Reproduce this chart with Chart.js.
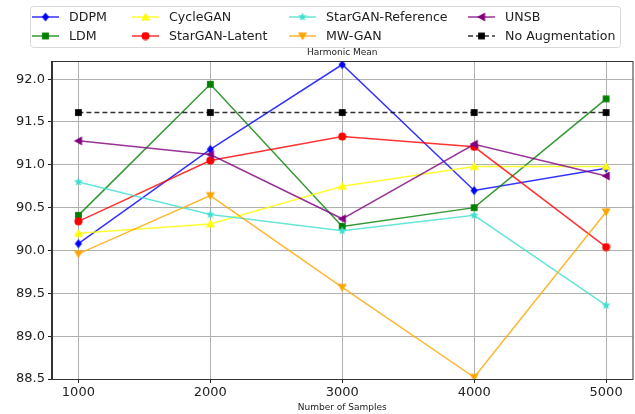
<!DOCTYPE html>
<html>
<head>
<meta charset="utf-8">
<script src="https://cdn.jsdelivr.net/npm/chart.js@4/dist/chart.umd.min.js"></script>
<style>
  html, body { margin: 0; padding: 0; background: #fff; overflow: hidden; }
  #wrap { width: 635px; height: 414px; position: relative; overflow: hidden; }
</style>
</head>
<body>
<div id="wrap"><canvas id="hm_chart" width="638" height="414"></canvas></div>
<script>
// data
var samples = [1000, 2000, 3000, 4000, 5000];
var ddpm = [90.08, 91.18, 92.17, 90.70, 90.96];
var ldm = [90.41, 91.94, 90.28, 90.50, 91.77];
var cycleGan = [90.20, 90.31, 90.75, 90.98, 90.98];
var starganLatent = [90.34, 91.05, 91.33, 91.21, 90.04];
var starganRef = [90.80, 90.42, 90.23, 90.41, 89.36];
var mwGan = [89.96, 90.64, 89.57, 88.52, 90.45];
var unsb = [91.28, 91.12, 90.37, 91.24, 90.87];
var noAug = [91.61, 91.61, 91.61, 91.61, 91.61];
var yTicks = [88.5, 89.0, 89.5, 90.0, 90.5, 91.0, 91.5, 92.0];
var xTicks = [1000, 2000, 3000, 4000, 5000];

var FONT = "'DejaVu Sans', sans-serif";

//Build marker images (matplotlib-like shapes)
function makeMarker(shape, color, size) {
    var c = document.createElement('canvas');
    c.width = size; c.height = size;
    var g = c.getContext('2d');
    var m = size / 2, r = size / 2 - 0.5;
    g.fillStyle = color;
    g.beginPath();
    if (shape === 'circle') {
        g.arc(m, m, r, 0, Math.PI * 2);
    } else if (shape === 'square') {
        g.rect(m - r * 0.85, m - r * 0.85, r * 1.7, r * 1.7);
    } else if (shape === 'diamond') {
        g.moveTo(m, m - r); g.lineTo(m + r * 0.8, m); g.lineTo(m, m + r); g.lineTo(m - r * 0.8, m);
    } else if (shape === 'up') {
        g.moveTo(m, m - r); g.lineTo(m + r, m + r * 0.8); g.lineTo(m - r, m + r * 0.8);
    } else if (shape === 'down') {
        g.moveTo(m, m + r); g.lineTo(m + r, m - r * 0.8); g.lineTo(m - r, m - r * 0.8);
    } else if (shape === 'left') {
        g.moveTo(m - r, m); g.lineTo(m + r * 0.8, m - r); g.lineTo(m + r * 0.8, m + r);
    } else if (shape === 'star') {
        for (var i = 0; i < 10; i++) {
            var a = -Math.PI / 2 + i * Math.PI / 5;
            var rr = i % 2 === 0 ? r : r * 0.45;
            var px = m + rr * Math.cos(a), py = m + rr * Math.sin(a);
            if (i === 0) g.moveTo(px, py); else g.lineTo(px, py);
        }
    }
    g.closePath();
    g.fill();
    return c;
}

function toPoints(values) {
    return samples.map(function (s, i) { return { x: s, y: values[i] }; });
}

var series = [
    { label: 'DDPM', data: ddpm, color: '#0000ff', line: 'rgba(0, 0, 255, 0.8)', marker: makeMarker('diamond', '#0000ff', 10) },
    { label: 'LDM', data: ldm, color: '#008000', line: 'rgba(0, 128, 0, 0.8)', marker: makeMarker('square', '#008000', 9) },
    { label: 'CycleGAN', data: cycleGan, color: '#ffff00', line: 'rgba(255, 255, 0, 0.8)', marker: makeMarker('up', '#ffff00', 10) },
    { label: 'StarGAN-Latent', data: starganLatent, color: '#ff0000', line: 'rgba(255, 0, 0, 0.8)', marker: makeMarker('circle', '#ff0000', 9) },
    { label: 'StarGAN-Reference', data: starganRef, color: '#40e0d0', line: 'rgba(64, 224, 208, 0.8)', marker: makeMarker('star', '#40e0d0', 10) },
    { label: 'MW-GAN', data: mwGan, color: '#ffa500', line: 'rgba(255, 165, 0, 0.8)', marker: makeMarker('down', '#ffa500', 10) },
    { label: 'UNSB', data: unsb, color: '#800080', line: 'rgba(128, 0, 128, 0.8)', marker: makeMarker('left', '#800080', 10) },
    { label: 'No Augmentation', data: noAug, color: '#000000', line: 'rgba(0, 0, 0, 0.8)', marker: makeMarker('square', '#000000', 9), dash: [5, 3] }
];

var datasets = series.map(function (s, i) {
    return {
        label: s.label,
        data: toPoints(s.data),
        borderColor: s.line,
        backgroundColor: s.color,
        borderWidth: 1.5,
        borderDash: s.dash || [],
        pointStyle: s.marker,
        pointRadius: 4,
        pointHoverRadius: 4,
        tension: 0,
        order: series.length - i
    };
});

//Legend, title and frame drawn by hand (matplotlib style)
var decorPlugin = {
    id: 'decor',
    afterDraw: function (chart) {
        var ctx = chart.ctx, area = chart.chartArea;
        ctx.save();
        // axes frame
        ctx.strokeStyle = '#333';
        ctx.lineWidth = 1;
        ctx.strokeRect(area.left - 0.5, area.top - 0.5, area.right - area.left + 1, area.bottom - area.top + 1);

        // title
        ctx.fillStyle = '#222';
        ctx.font = '9px ' + FONT;
        ctx.textAlign = 'center';
        ctx.textBaseline = 'middle';
        ctx.fillText('Harmonic Mean', (area.left + area.right) / 2, 53);

        // legend frame
        ctx.strokeStyle = '#d8d8d8';
        ctx.fillStyle = 'rgba(255,255,255,0.8)';
        ctx.beginPath();
        ctx.roundRect(30.5, 6.5, 590, 41, 3);
        ctx.fill();
        ctx.stroke();

        var colX = [32, 132, 289, 468];
        var rowY = [17, 36];
        ctx.font = '12.6px ' + FONT;
        ctx.textAlign = 'left';
        series.forEach(function (s, i) {
            var x = colX[Math.floor(i / 2)], y = rowY[i % 2];
            ctx.strokeStyle = s.line;
            ctx.lineWidth = 1.5;
            ctx.setLineDash(s.dash || []);
            ctx.beginPath();
            ctx.moveTo(x, y);
            ctx.lineTo(x + 27, y);
            ctx.stroke();
            ctx.setLineDash([]);
            ctx.drawImage(s.marker, x + 13.5 - s.marker.width / 2, y - s.marker.height / 2);
            ctx.fillStyle = '#222';
            ctx.fillText(s.label, x + 37, y + 1);
        });
        ctx.restore();
    }
};

var config = {
    type: 'line',
    data: { datasets: datasets },
    options: {
        responsive: false,
        animation: false,
        layout: { padding: { top: 62, right: 0, left: 0, bottom: 0 } },
        plugins: {
            legend: { display: false },
            title: { display: false },
            tooltip: { enabled: false }
        },
        scales: {
            x: {
                type: 'linear',
                min: 800,
                max: 5200,
                afterBuildTicks: function (scale) {
                    scale.ticks = xTicks.map(function (v) { return { value: v }; });
                },
                afterFit: function (scale) { scale.height = 35; },
                ticks: {
                    color: '#222',
                    font: { family: FONT, size: 13 },
                    padding: 2,
                    maxRotation: 0,
                    callback: function (v) { return String(v); }
                },
                grid: { color: '#b0b0b0', lineWidth: 1, tickLength: 4, tickColor: '#222' },
                border: { color: '#333' },
                title: {
                    display: true,
                    text: 'Number of Samples',
                    color: '#222',
                    font: { family: FONT, size: 9 },
                    padding: { top: 0, bottom: 1 }
                }
            },
            y: {
                type: 'linear',
                min: 88.5,
                max: 92.2,
                afterBuildTicks: function (scale) {
                    scale.ticks = yTicks.map(function (v) { return { value: v }; });
                },
                afterFit: function (scale) { scale.width = 52; },
                ticks: {
                    color: '#222',
                    font: { family: FONT, size: 13 },
                    padding: 3,
                    callback: function (v) { return v.toFixed(1); }
                },
                grid: { color: '#b0b0b0', lineWidth: 1, tickLength: 4, tickColor: '#222' },
                border: { color: '#333' }
            }
        }
    },
    plugins: [decorPlugin]
};

var chart = new Chart(document.getElementById('hm_chart').getContext('2d'), config);
</script>
</body>
</html>
